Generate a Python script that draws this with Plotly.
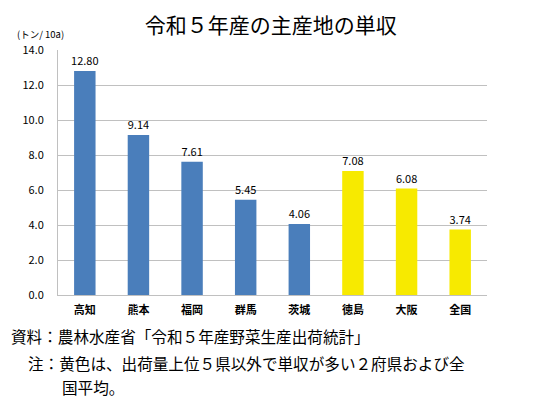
import plotly.graph_objects as go

categories = ["高知", "熊本", "福岡", "群馬", "茨城", "徳島", "大阪", "全国"]
values = [12.80, 9.14, 7.61, 5.45, 4.06, 7.08, 6.08, 3.74]
colors = ["#4a7ebb"] * 5 + ["#f7ea00"] * 3
tick_vals = [0, 2, 4, 6, 8, 10, 12, 14]
tick_text = ["0.0", "2.0", "4.0", "6.0", "8.0", "10.0", "12.0", "14.0"]

FONT = "Noto Sans CJK JP"

fig = go.Figure(go.Bar(
    x=categories, y=values, marker_color=colors, marker_line_width=0,
    text=[f"{v:.2f}" for v in values], textposition="outside",
    textfont=dict(size=11, color="#000000", family=FONT),
    constraintext="none",
    cliponaxis=False,
))

# page has an 8px body margin, so the figure is 8px smaller and offset
fig.update_layout(
    width=542, height=390,
    margin=dict(l=50, r=63, t=42, b=103),
    paper_bgcolor="white", plot_bgcolor="white",
    bargap=0.6, showlegend=False,
    font=dict(family=FONT, color="#000000"),
    title=dict(text="令和５年産の主産地の単収", xref="container", x=0.485, xanchor="center",
               y=0.956, yanchor="middle",
               font=dict(size=21, color="#000000", family=FONT)),
)
fig.update_yaxes(range=[0, 14], tickvals=tick_vals, ticktext=tick_text,
                 showgrid=True, gridcolor="#c0c0c0", gridwidth=1,
                 showline=True, linecolor="#c0c0c0", linewidth=1,
                 ticks="", tickfont=dict(size=11), ticklabelstandoff=11, zeroline=False)
fig.update_xaxes(showline=True, linecolor="#c0c0c0", linewidth=1, ticks="",
                 tickfont=dict(size=11, weight="bold"), ticklabelstandoff=5)

fig.add_annotation(text="(トン/ 10a)", xref="paper", yref="paper", x=-0.1002, y=1.065,
                   xanchor="left", yanchor="middle", showarrow=False,
                   font=dict(size=9.5))
fig.add_annotation(text="資料：農林水産省「令和５年産野菜生産出荷統計」", xref="paper", yref="paper",
                   x=-0.1142, y=-0.167, xanchor="left", yanchor="middle", showarrow=False,
                   font=dict(size=15.6))
fig.add_annotation(text="注：黄色は、出荷量上位５県以外で単収が多い２府県および全", xref="paper", yref="paper",
                   x=-0.0746, y=-0.2776, xanchor="left", yanchor="middle", showarrow=False,
                   font=dict(size=15.6))
fig.add_annotation(text="国平均。", xref="paper", yref="paper",
                   x=0.0047, y=-0.3755, xanchor="left", yanchor="middle", showarrow=False,
                   font=dict(size=15.6))

fig.write_html("out.html")
